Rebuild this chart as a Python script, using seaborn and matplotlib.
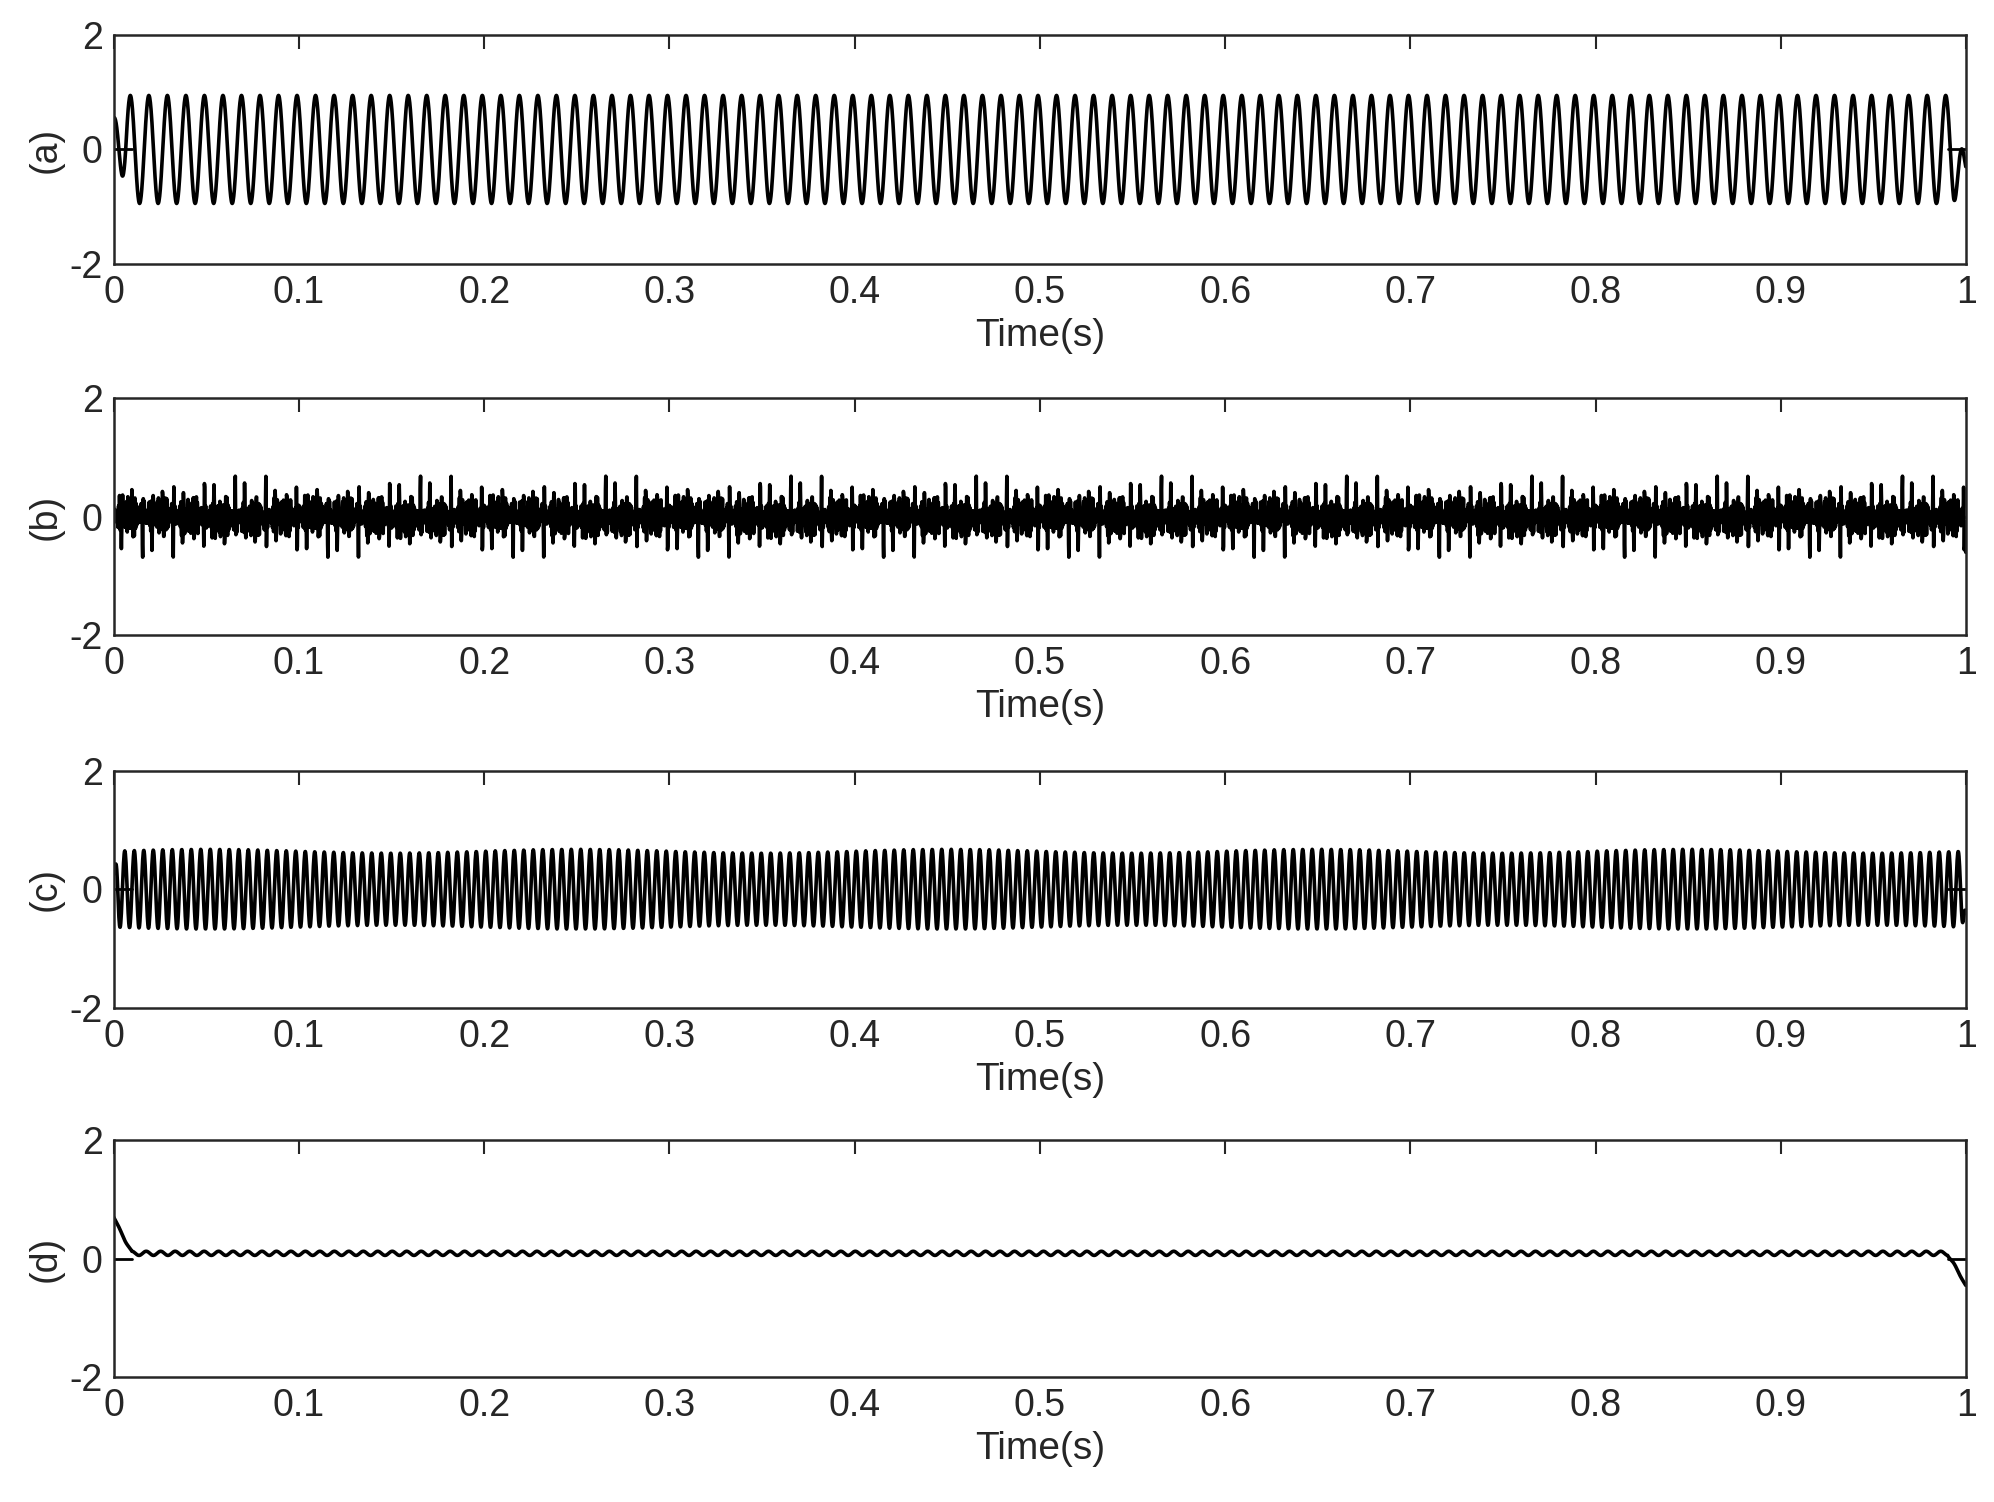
import numpy as np
import pandas as pd
import matplotlib
matplotlib.use("Agg")
import matplotlib.pyplot as plt
import seaborn as sns

sns.set_theme(style="white")
plt.rcParams['font.family'] = ['Liberation Sans', 'DejaVu Sans']

panel_labels = ["(a)", "(b)", "(c)", "(d)"]
x_ticks = [0, 0.1, 0.2, 0.3, 0.4, 0.5, 0.6, 0.7, 0.8, 0.9, 1]
x_tick_labels = ["0", "0.1", "0.2", "0.3", "0.4", "0.5", "0.6", "0.7", "0.8", "0.9", "1"]
y_ticks = [-2, 0, 2]
fs = 6000
t = np.arange(0, 1.0, 1 / fs)

# component parameters (frequency Hz, amplitude)
a_freq, a_amp = 100, 0.94
b_freqs = [430, 610, 790, 970, 1150, 1330, 1570, 1810]
b_amps = [0.10, 0.09, 0.08, 0.08, 0.07, 0.07, 0.12, 0.14]
c_freq, c_amp = 195, 0.64
d_freq, d_amp, d_offset = 128, 0.035, 0.09

def edge(sig, start_val, end_val, n=40):
    sig = sig.copy()
    w = np.linspace(1, 0, n)
    sig[:n] = sig[:n] * (1 - w) + start_val * w
    sig[-n:] = sig[-n:] * (1 - w[::-1]) + end_val * w[::-1]
    return sig

sa = edge(a_amp * np.sin(2 * np.pi * a_freq * t + 2.2), 0.55, -0.3)
sb = sum(A * np.sin(2 * np.pi * f * t + i * 1.3) for i, (f, A) in enumerate(zip(b_freqs, b_amps)))
sb = edge(sb, 0.0, -0.6, 5)
sc = edge(c_amp * np.sin(2 * np.pi * c_freq * t + 0.5) * (1 + 0.05 * np.sin(2 * np.pi * 5 * t)), 0.25, -0.4, 15)
sd = edge(d_offset + d_amp * np.sin(2 * np.pi * d_freq * t), 0.7, -0.45, 60)
signals = [sa, sb, sc, sd]

fig = plt.figure(figsize=(19.94, 15.02), dpi=100)
boxes = [(0.824, 0.153), (0.577, 0.158), (0.329, 0.158), (0.083, 0.158)]
for lab, sig, (b, h) in zip(panel_labels, signals, boxes):
    ax = fig.add_axes([0.057, b, 0.929, h])
    df = pd.DataFrame({"t": t, "v": sig})
    sns.lineplot(data=df, x="t", y="v", ax=ax, color="black", linewidth=2.6)
    ax.plot([0, 0.01], [0, 0], color="black", lw=2)
    ax.plot([0.99, 1], [0, 0], color="black", lw=2)
    ax.set_xlim(0, 1)
    ax.set_ylim(-2, 2)
    ax.set_xticks(x_ticks)
    ax.set_xticklabels(x_tick_labels)
    ax.set_yticks(y_ticks)
    ax.set_yticklabels(["-2", "0", "2"])
    ax.tick_params(direction="in", length=10, width=1.5, labelsize=27, top=True, right=False, colors="#262626", pad=8)
    for s in ax.spines.values():
        s.set_linewidth(1.8)
        s.set_color("#262626")
    ax.set_xlabel("Time(s)", fontsize=28, color="#262626", labelpad=5)
    ax.set_ylabel(lab, fontsize=27, color="#262626", labelpad=4)

fig.savefig("out.png", dpi=100)
